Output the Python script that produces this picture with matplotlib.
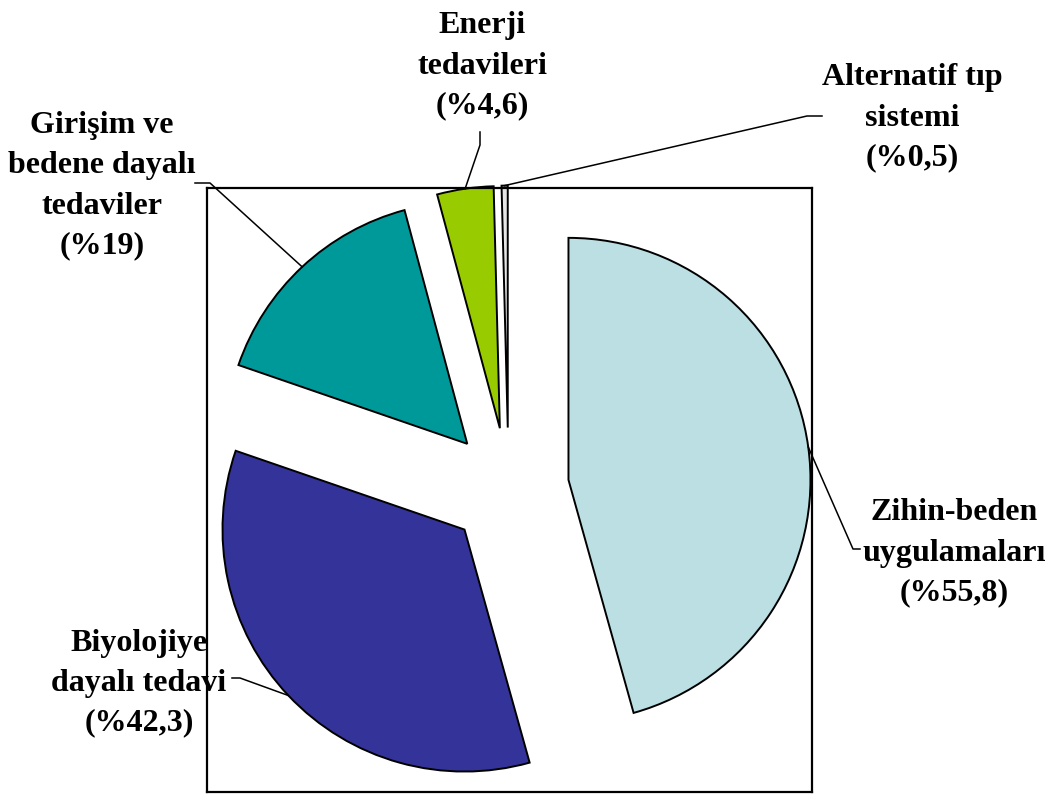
import matplotlib
matplotlib.use('Agg')
import matplotlib.pyplot as plt
from matplotlib.lines import Line2D
import numpy as np

plt.rcParams['font.family'] = ['Liberation Serif', 'DejaVu Serif']

# slices, clockwise from 12 o'clock
names = ['Zihin-beden\nuygulamaları', 'Biyolojiye\ndayalı tedavi',
         'Girişim ve\nbedene dayalı\ntedaviler', 'Enerji\ntedavileri',
         'Alternatif tıp\nsistemi']
values = [55.8, 42.3, 19, 4.6, 0.5]
colors = ['#BBDFE3', '#333399', '#009999', '#99CC00', '#E6E6E6']

W, H = 1050, 794
# label centre, leader kink and leader end next to the text (pixels from top-left)
label_xy = [(954, 553), (139, 683), (102, 186), (482, 66), (912, 118)]
kink_xy = [(853, 549), (240, 678), (210, 183), (480, 145), (807, 116)]
end_xy = [(860, 549), (232, 678), (195, 183), (480, 132), (822, 116)]


def px(x, y):
    return x / W, 1 - y / H


fig = plt.figure(figsize=(10.5, 7.94), dpi=100)
l, b = px(207, 792)
r, t = px(812, 188)
ax = fig.add_axes([l, b, r - l, t - b])

wedges, _ = ax.pie(values, colors=colors, startangle=90, counterclock=False,
                   explode=[0.25] * len(values),
                   wedgeprops=dict(edgecolor='black', linewidth=1.4))
ax.set_aspect('auto')
ax.set_xlim(-1.246, 1.254)
ax.set_ylim(-1.256, 1.240)
ax.set_frame_on(True)
for s in ax.spines.values():
    s.set_linewidth(1.6)
    s.set_color('black')
ax.set_xticks([])
ax.set_yticks([])

to_fig = ax.transData + fig.transFigure.inverted()

for w, name, v, lxy, kxy, exy in zip(wedges, names, values, label_xy, kink_xy, end_xy):
    mid = np.deg2rad((w.theta1 + w.theta2) / 2)
    cx, cy = w.center
    p0 = to_fig.transform((cx + w.r * np.cos(mid), cy + w.r * np.sin(mid)))
    p1 = px(*kxy)
    p2 = px(*exy)
    fig.add_artist(Line2D([p0[0], p1[0], p2[0]], [p0[1], p1[1], p2[1]],
                          color='black', lw=1.1, transform=fig.transFigure))
    pct = f"(%{v:g})".replace('.', ',')
    fig.text(*px(*lxy), name + '\n' + pct, ha='center', va='center',
             fontsize=23, fontweight='bold', linespacing=1.5)

fig.savefig('out.png', dpi=100)
